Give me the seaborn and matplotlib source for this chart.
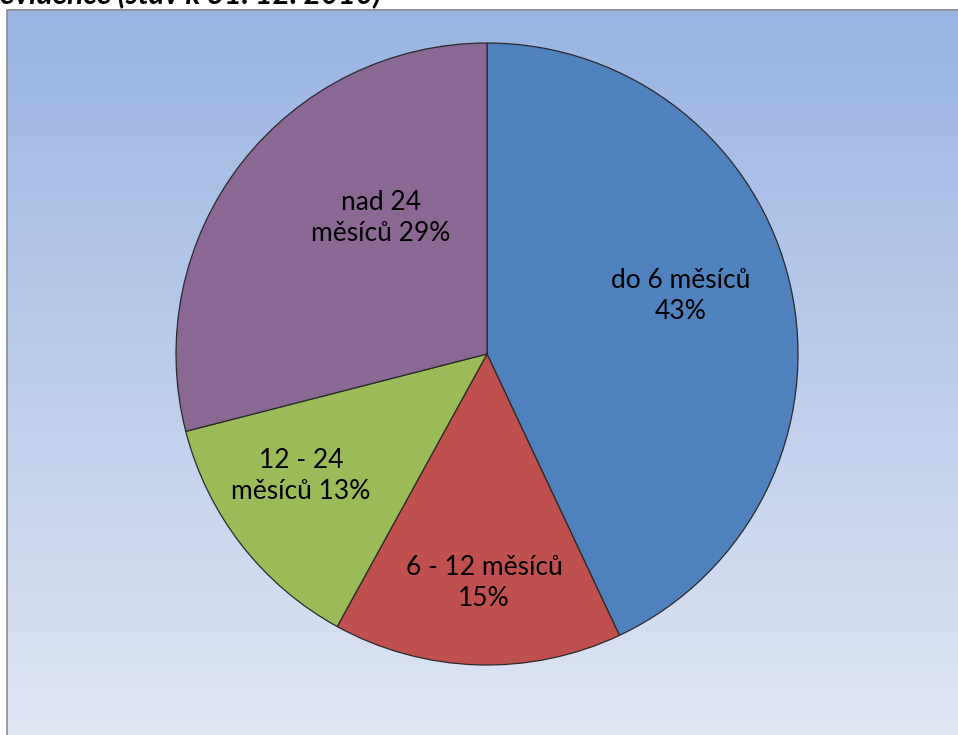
import numpy as np
import matplotlib
matplotlib.use("Agg")
import matplotlib.pyplot as plt
import seaborn as sns
from matplotlib.colors import LinearSegmentedColormap

categories = ["do 6 měsíců", "6 - 12 měsíců", "12 - 24 měsíců", "nad 24 měsíců"]
values = [43, 15, 13, 29]
label_texts = ["do 6 měsíců\n43%", "6 - 12 měsíců\n15%", "12 - 24\nměsíců 13%", "nad 24\nměsíců 29%"]
colors = ["#4F81BD", "#C0504D", "#9BBB59", "#8B6794"]
title_text = "evidence (stav k 31. 12. 2010)"

sns.set_theme(style="white")
plt.rcParams['font.family'] = ['Lato', 'DejaVu Sans']

W, H = 958, 735
fig = plt.figure(figsize=(W / 100, H / 100), dpi=100)
ax = fig.add_axes([0, 0, 1, 1])
ax.set_xlim(0, W)
ax.set_ylim(0, H)
ax.axis("off")

# gradient panel background
cmap = LinearSegmentedColormap.from_list("bg", ["#DFE6F4", "#99B4E2"])
grad = np.linspace(0, 1, 256).reshape(-1, 1)
ax.imshow(grad, cmap=cmap, aspect="auto", extent=[7, W + 1, 0, H - 9],
          origin="lower", zorder=0)
ax.plot([7.5, 7.5, W + 2], [0, H - 9.5, H - 9.5], color="#8C8C8C", lw=1.2,
        zorder=1, solid_capstyle="butt")

cx, cy, r = 487, H - 354, 311
wedges, _ = ax.pie(values, colors=colors, startangle=90, counterclock=False,
                   center=(cx, cy), radius=r, frame=True,
                   wedgeprops=dict(edgecolor="#2A2A2A", linewidth=0.9))
for w in wedges:
    w.set_zorder(2)
ax.set_xlim(0, W)
ax.set_ylim(0, H)
ax.axis("off")

label_pos = [(681, 296), (484, 583), (301, 476), (381, 218)]
for (lx, ly), t in zip(label_pos, label_texts):
    ax.text(lx, H - ly, t, ha="center", va="center", fontsize=19,
            color="#000000", linespacing=1.3, zorder=3)

ax.text(0, H - 3, title_text, ha="left", va="baseline", fontsize=21.5,
        fontweight="bold", fontstyle="italic", color="#000000", zorder=3)

fig.savefig("out.png", dpi=100)
